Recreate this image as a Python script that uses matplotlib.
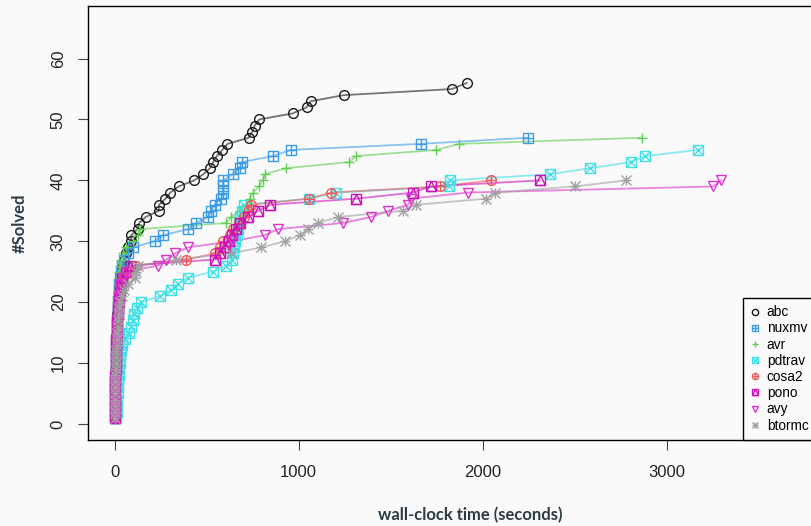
import matplotlib
matplotlib.use('Agg')
import matplotlib.pyplot as plt
from matplotlib.lines import Line2D

# solve times (seconds), sorted; the k-th entry is the time at which k instances were solved
solvers = ['abc', 'nuxmv', 'avr', 'pdtrav', 'cosa2', 'pono', 'avy', 'btormc']

abc = [1, 1, 2, 2, 3, 3, 4, 5, 5, 6, 7, 8, 9, 10, 11, 12, 13, 15, 17, 19,
       21, 24, 27, 31, 36, 45, 52, 61, 75, 87,
       91, 124, 133, 169, 239, 241, 276, 303, 348, 432,
       481, 518, 535, 555, 585, 613, 728, 748, 761, 785,
       967, 1043, 1065, 1245, 1832, 1913]
nuxmv = [1, 2, 2, 3, 3, 4, 4, 5, 6, 7, 8, 9, 10, 11, 12, 13, 14, 16, 18, 20,
         22, 24, 26, 29, 33, 40, 50, 75, 100, 217,
         263, 399, 444, 506, 525, 543, 580, 587, 587, 590,
         641, 680, 690, 860, 957, 1663, 2245]
avr = [0.5, 1, 1, 1, 2, 2, 2, 3, 3, 4, 4, 5, 5, 6, 7, 8, 9, 10, 11, 12,
       14, 16, 18, 21, 24, 28, 34, 44, 60, 100,
       127, 136, 607, 634, 679, 716, 734, 752, 784, 806,
       815, 929, 1273, 1313, 1748, 1871, 2864]
pdtrav = [8, 10, 12, 14, 16, 18, 20, 22, 25, 28, 31, 35, 40, 55, 80, 88, 98, 105, 120, 145,
          245, 308, 342, 397, 533, 607, 640, 645, 650, 655,
          662, 668, 675, 682, 690, 700, 1056, 1205, 1815, 1821,
          2364, 2585, 2804, 2884, 3170]
cosa2 = [1, 1, 2, 2, 3, 3, 4, 4, 5, 6, 7, 8, 9, 10, 11, 13, 15, 17, 19, 22,
         25, 29, 35, 45, 70, 118, 390, 543, 570, 590,
         625, 645, 678, 700, 722, 743, 1056, 1178, 1766, 2047]
pono = [1, 1, 2, 2, 3, 3, 4, 4, 5, 5, 6, 7, 8, 9, 10, 12, 14, 16, 18, 21,
        24, 28, 33, 42, 60, 85, 543, 575, 600, 620,
        640, 660, 679, 725, 779, 846, 1313, 1621, 1717, 2310]
avy = [1, 2, 2, 3, 3, 4, 4, 5, 6, 7, 8, 9, 10, 11, 12, 14, 16, 18, 20, 23,
       26, 30, 36, 45, 60, 235, 280, 326, 399, 640,
       815, 888, 1241, 1395, 1486, 1594, 1610, 1918, 3252, 3297]
btormc = [1, 1, 2, 2, 3, 3, 4, 4, 5, 6, 7, 8, 10, 12, 14, 16, 19, 22, 26, 31,
          38, 50, 70, 109, 118, 127, 335, 634, 797, 924,
          1005, 1051, 1105, 1214, 1567, 1640, 2020, 2065, 2500, 2781]

times = [abc, nuxmv, avr, pdtrav, cosa2, pono, avy, btormc]

colors = ['#1a1a1a', '#3b9be6', '#5fcf4f', '#3fe0e6', '#ee5a5a', '#cc11bb', '#dd33cc', '#a0a0a0']
# R pch symbols built from overlaid matplotlib markers
markers = [('o',), ('s', '+'), ('+',), ('s', 'x'), ('o', '+'), ('s', '^'), ('v',), ('+', 'x')]

W, H = 812, 526
bg = '#fafafa'
fig = plt.figure(figsize=(W / 100, H / 100), dpi=100, facecolor=bg)
left, right, top, bottom = 88, 816, 6, 440
ax = fig.add_axes([left / W, 1 - bottom / H, (right - left) / W, (bottom - top) / H])
ax.set_facecolor(bg)

for t, c, ms in zip(times, colors, markers):
    n = list(range(1, len(t) + 1))
    ax.plot(t, n, color=c, lw=1.3, alpha=0.6, zorder=2)
    for m in ms:
        ax.plot(t, n, ls='none', marker=m, ms=7, mfc='none', mec=c, mew=1, zorder=3)

ax.set_xlim(-145, 3811)
ax.set_ylim(-2.64, 68.64)
ax.set_xticks([0, 1000, 2000, 3000])
ax.set_yticks(range(0, 61, 10))

for s in ax.spines.values():
    s.set_color('black')
    s.set_linewidth(1)

tick_font = {'family': 'Liberation Sans', 'size': 12}
ax.tick_params(direction='out', length=7, width=0.8, color='#444444', pad=9, labelcolor='#222222')
ax.tick_params(axis='x', pad=11)
ax.set_xticklabels([str(v) for v in [0, 1000, 2000, 3000]], fontdict=tick_font)
ax.set_yticklabels([str(v) for v in range(0, 61, 10)], fontdict=tick_font, rotation=90, va='center')

lab_color = '#2d3b44'
ax.set_xlabel('wall-clock time (seconds)', fontsize=12, fontweight='bold', color=lab_color,
              family='Lato', va='center')
ax.xaxis.set_label_coords((470 - left) / (right - left), (bottom - 515) / (bottom - top))
ax.set_ylabel('#Solved', fontsize=12, fontweight='bold', color=lab_color, family='Lato', va='center')
ax.yaxis.set_label_coords((20 - left) / (right - left), 0.5)

handles = []
for c, ms in zip(colors, markers):
    handles.append(tuple(Line2D([], [], ls='none', marker=m, ms=4.5, mfc='none', mec=c, mew=1) for m in ms))
leg = ax.legend(handles, solvers, loc='lower right', bbox_to_anchor=(1, 0), borderaxespad=0,
                fancybox=False, edgecolor='black', facecolor=bg, framealpha=1,
                prop={'family': 'Liberation Sans', 'size': 9.8},
                handlelength=0.6, handletextpad=0.6, labelspacing=0.16, borderpad=0.55)
leg.get_frame().set_linewidth(1)

fig.savefig('out.png', dpi=100, facecolor=bg)
